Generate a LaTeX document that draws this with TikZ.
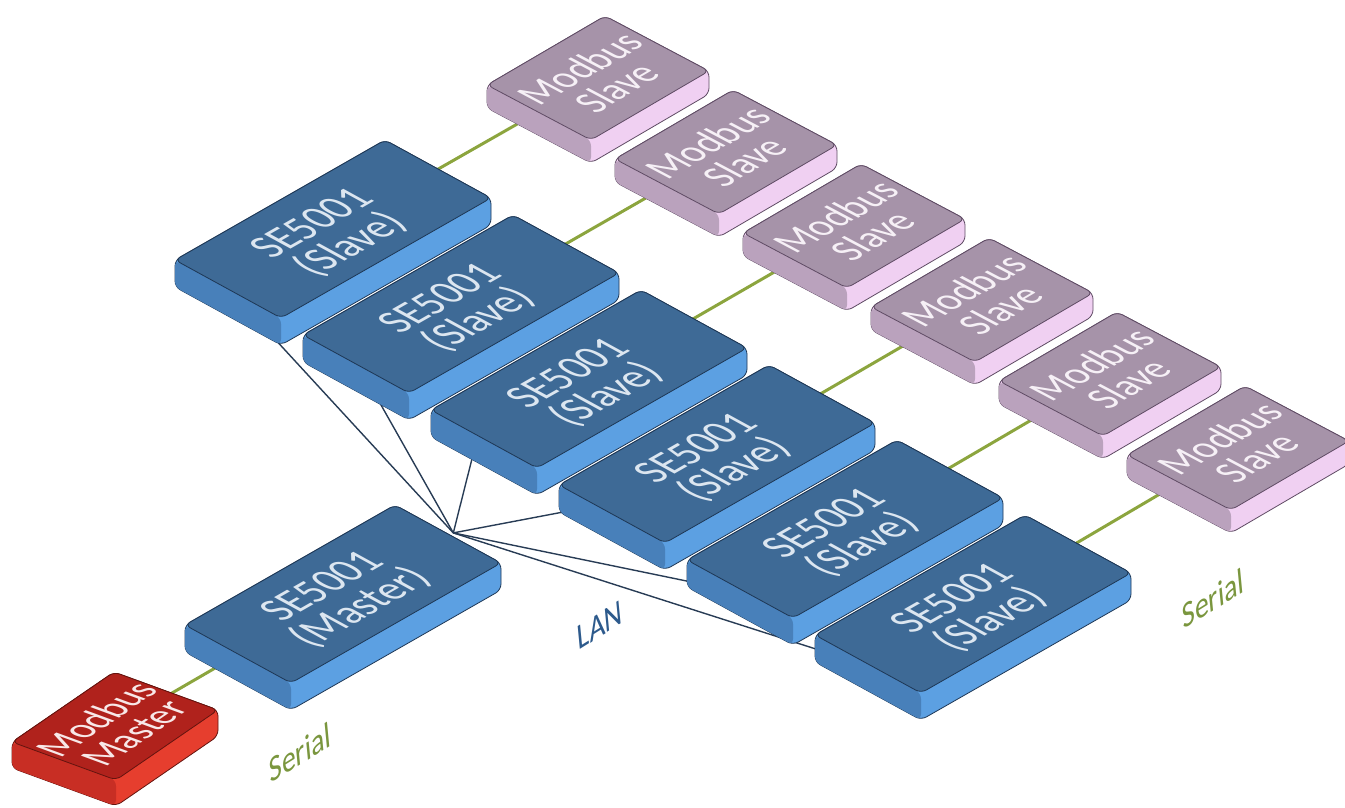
\documentclass[tikz,border=0pt]{standalone}
\usepackage{fontspec}
\setmainfont{Carlito}
\usepackage{tikz}
\usetikzlibrary{calc,backgrounds}
\definecolor{SEtop}{RGB}{62,106,150}
\definecolor{SEfront}{RGB}{92,160,226}
\definecolor{SEside}{RGB}{72,128,186}
\definecolor{SEline}{RGB}{30,55,85}
\definecolor{SEtxt}{RGB}{220,230,240}
\definecolor{MBtop}{RGB}{166,147,169}
\definecolor{MBfront}{RGB}{240,208,242}
\definecolor{MBside}{RGB}{186,162,189}
\definecolor{MBline}{RGB}{95,75,100}
\definecolor{MBtxt}{RGB}{246,240,246}
\definecolor{RDtop}{RGB}{176,34,28}
\definecolor{RDfront}{RGB}{230,62,46}
\definecolor{RDside}{RGB}{200,46,36}
\definecolor{RDline}{RGB}{100,20,15}
\definecolor{RDtxt}{RGB}{248,232,232}
\definecolor{serialcol}{RGB}{140,165,62}
\definecolor{serialtxt}{RGB}{122,150,62}
\definecolor{lancol}{RGB}{40,60,85}
\definecolor{lantxt}{RGB}{45,90,140}
\tikzstyle{slabline}=[line width=0.8pt,rounded corners=6pt]
\tikzstyle{setext}=[text=SEtxt,font=\fontsize{40}{37}\selectfont,align=center,rotate=29.7,xslant=-0.615]
\tikzstyle{mbtext}=[text=MBtxt,font=\fontsize{37}{35}\selectfont,align=center,rotate=30.3,xslant=-0.62]
\tikzstyle{rdtext}=[text=RDtxt,font=\fontsize{36}{33}\selectfont,align=center,rotate=34.5,xslant=-0.71]
\tikzstyle{serial}=[draw=serialcol,line width=3pt]
\tikzstyle{lan}=[draw=lancol,line width=1.4pt]
\tikzstyle{seriallabel}=[text=serialtxt,font=\fontsize{32}{32}\selectfont,rotate=32,xslant=0.5]
\tikzstyle{lanlabel}=[text=lantxt,font=\fontsize{32}{32}\selectfont,rotate=32,xslant=0.5]

% name, colours, corner, long edge, short edge, height
\newcommand{\slab}[6]{
  \coordinate (#1-l) at (#3);
  \coordinate (#1-t) at ($(#1-l)+(#4)$);
  \coordinate (#1-b) at ($(#1-l)+(#5)$);
  \coordinate (#1-r) at ($(#1-t)+(#5)$);
  \coordinate (#1-c) at ($(#1-l)!0.5!(#1-r)$);
  \filldraw[#2front,draw=#2line,slabline] (#1-l) -- (#1-t) -- (#1-r) -- ($(#1-r)+(0,#6)$)
    -- ($(#1-b)+(0,#6)$) -- ($(#1-l)+(0,#6)$) -- cycle;
  \fill[#2side,slabline] (#1-l) -- (#1-b) -- ($(#1-b)+(0,#6)$) -- ($(#1-l)+(0,#6)$) -- cycle;
  \filldraw[#2top,draw=#2line,slabline] (#1-l) -- (#1-t) -- (#1-r) -- (#1-b) -- cycle;
}

\begin{document}
\begin{tikzpicture}[x=1pt,y=-1pt]
  \useasboundingbox (0,0) rectangle (1345,807);
  % modbus slaves
  \foreach \i in {1,...,6}{
    \slab{m\i}{MB}{{487+128*(\i-1)},{85+74*(\i-1)}}{118,-69}{104,55}{23}
    \node[mbtext] (mt\i) at (m\i-c) {Modbus\\Slave};
  }
  % SE5001 slaves
  \foreach \i in {1,...,6}{
    \slab{s\i}{SE}{{175+128*(\i-1)},{260+75*(\i-1)}}{210,-120}{106,58}{27}
    \node[setext] (st\i) at ($(s\i-c)+(0,6)$) {SE5001\\(Slave)};
  }
  \slab{ma}{SE}{185,625}{210,-120}{106,58}{27}
  \node[setext] (mat) at ($(ma-c)+(0,4)$) {SE5001\\(Master)};
  \slab{mm}{RD}{12,742}{102,-70}{104,38}{26}
  \node[rdtext] (mmt) at (mm-c) {Modbus\\Master};

  \begin{pgfonlayer}{background}
    \coordinate (hub) at ($(ma-t)!0.55!(ma-r)+(0,-4)$);
    \foreach \i/\f/\d in {1/0.9/22,2/0.68/20,3/0.4/20,4/0.1/20,5/0.03/20,6/0.03/13}
      \draw[lan] (hub) -- ($(s\i-l)!\f!(s\i-b)+(0,\d)$);
    \foreach \i in {1,...,6}
      \draw[serial] (s\i-c) -- (m\i-c);
    \draw[serial] (mm-c) -- (ma-c);
  \end{pgfonlayer}

  \node[lanlabel] (lanlbl) at (600,625) {LAN};
  \node[seriallabel] (serA) at (300,752) {Serial};
  \node[seriallabel] (serB) at (1213,598) {Serial};
\end{tikzpicture}
\end{document}
